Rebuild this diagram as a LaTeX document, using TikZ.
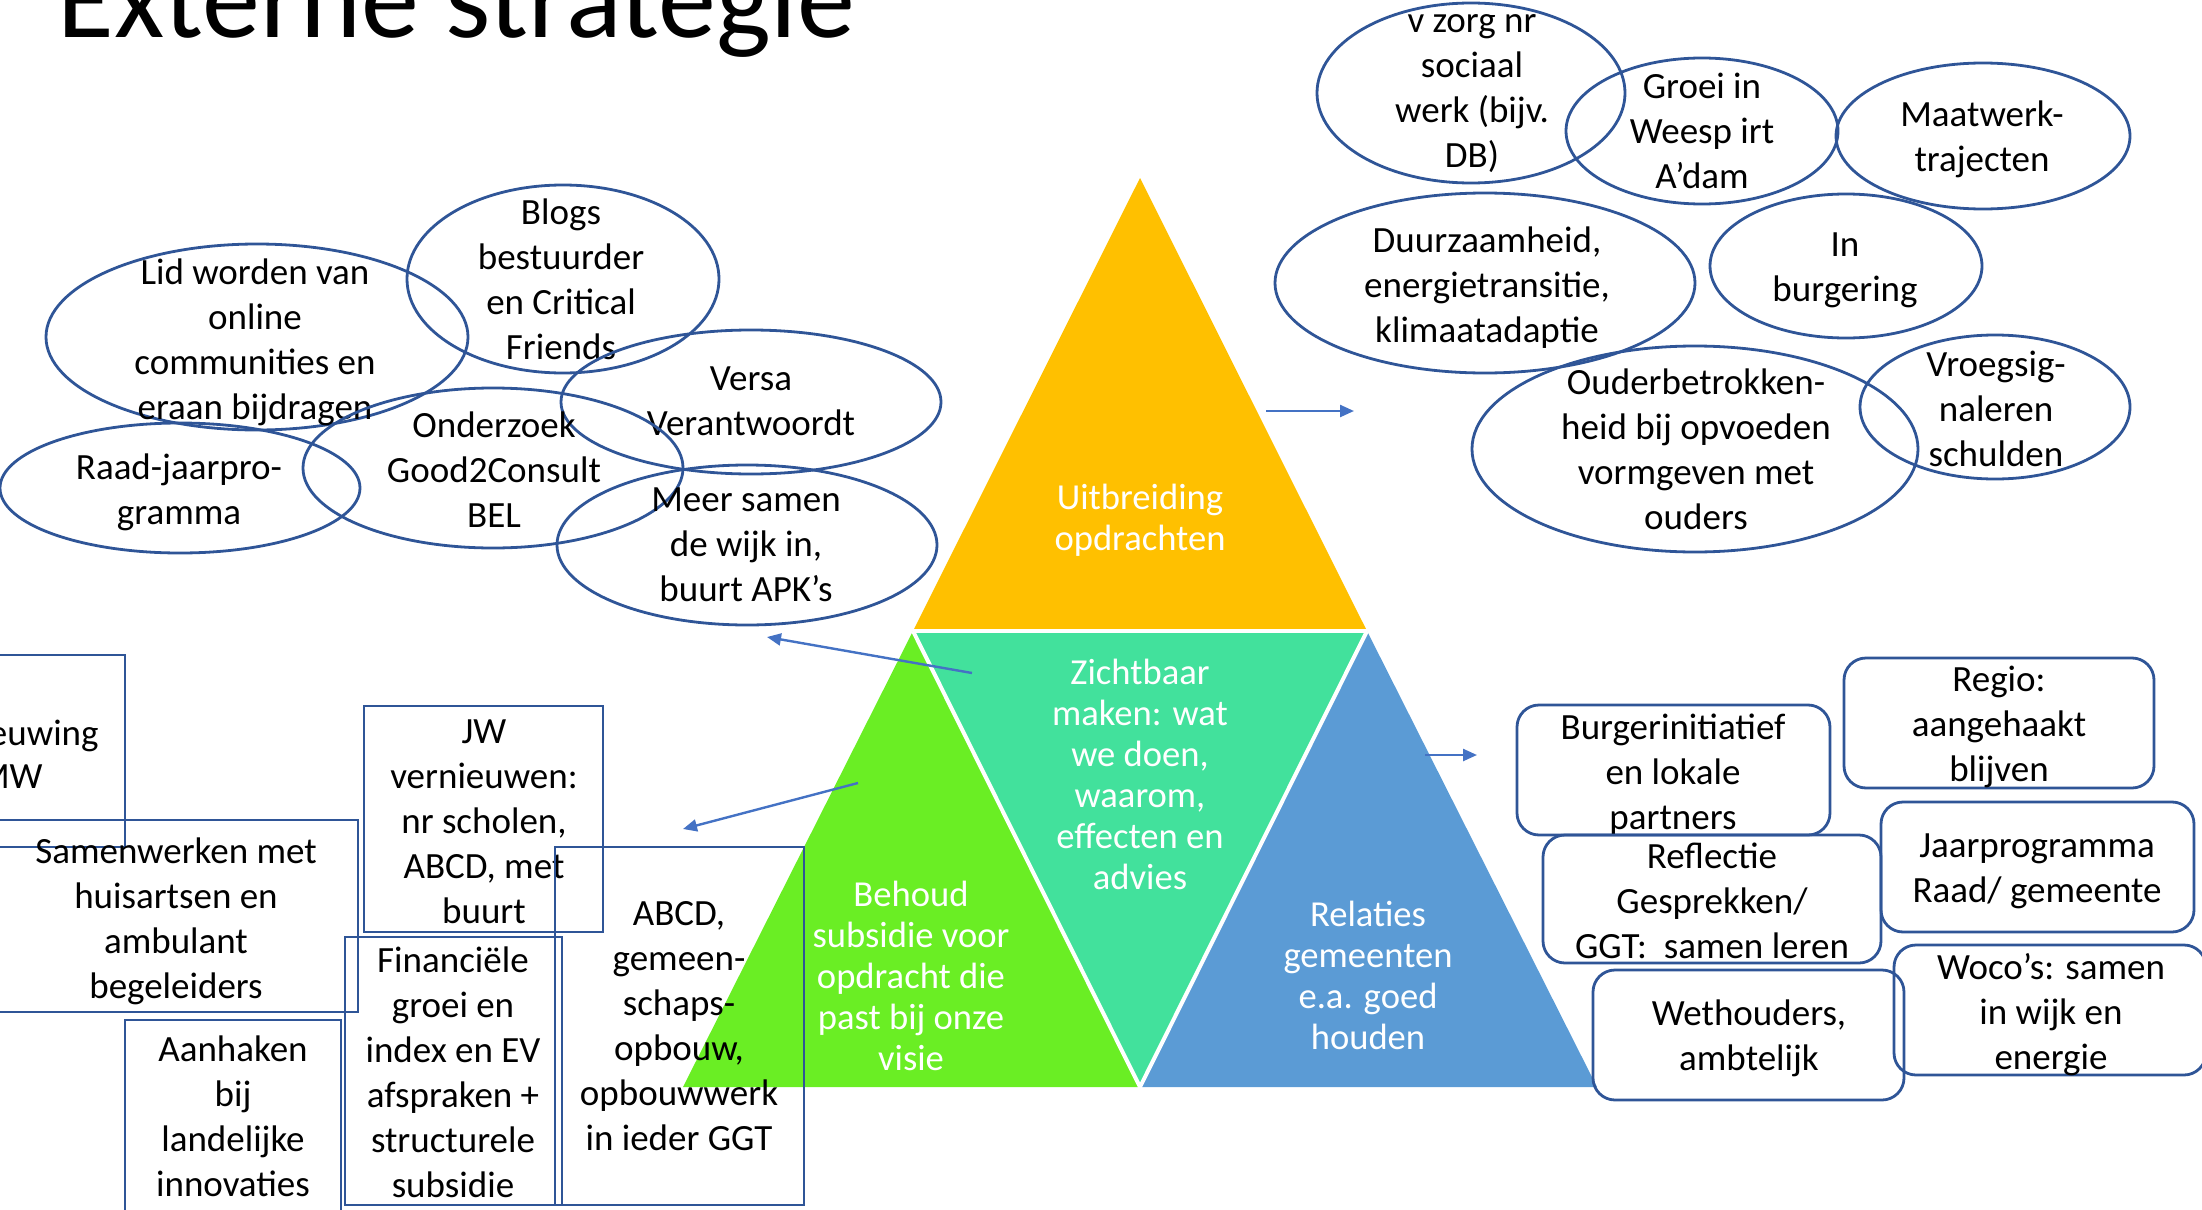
\documentclass[tikz,border=0pt]{standalone}
\usepackage{fontspec}
\setmainfont{Carlito}
\usetikzlibrary{shapes.geometric,arrows.meta}
\definecolor{ol}{HTML}{2F5597}
\definecolor{arrc}{HTML}{4472C4}
\definecolor{torange}{HTML}{FFC000}
\definecolor{tgreen}{HTML}{6AEE24}
\definecolor{tteal}{HTML}{42E19C}
\definecolor{tblue}{HTML}{5B9BD5}
\tikzset{
  ell/.style={draw=ol, line width=1.4pt, ellipse, inner sep=0pt},
  sq/.style={draw=ol, line width=1.4pt, rectangle, inner sep=0pt},
  rbox/.style={sq, rounded corners=11pt},
  txt/.style={align=center, inner sep=0pt, yshift=-3pt, font=\fontsize{18.5}{22.5}\selectfont,
    execute at begin node=\strut, execute at end node=\strut},
  plaintxt/.style={inner sep=0pt, font=\fontsize{18.5}{22.5}\selectfont},
  wtxt/.style={align=center, inner sep=0pt, yshift=-3pt, text=white, font=\fontsize{18.3}{20.5}\selectfont,
    execute at begin node=\strut, execute at end node=\strut},
  arr/.style={draw=arrc, line width=1.2pt, -{Triangle[length=7pt,width=6pt]}},
  sep/.style={draw=white, line width=2pt}
}
\begin{document}
\begin{tikzpicture}[x=0.5pt,y=-0.5pt]
\useasboundingbox (0,0) rectangle (2202,1210);

% title
\node[anchor=base west, inner sep=0pt, font=\fontsize{58}{70}\selectfont] (title) at (57,37) {Externe strategie};

% triangle
\coordinate (P0) at (1140,178);
\coordinate (ML) at (913,631);
\coordinate (MR) at (1367,631);
\coordinate (BL) at (683,1087);
\coordinate (BM) at (1140,1087);
\coordinate (BR) at (1597,1087);
\fill[torange] (P0) -- (ML) -- (MR) -- cycle;
\fill[tgreen] (ML) -- (BL) -- (BM) -- cycle;
\fill[tteal] (ML) -- (MR) -- (BM) -- cycle;
\fill[tblue] (MR) -- (BM) -- (BR) -- cycle;
\draw[sep] (ML) -- (MR);
\draw[sep] (ML) -- (BM) -- (MR);

\node[wtxt] (t1) at (1140,517) {Uitbreiding\\opdrachten};
\node[wtxt] (t2) at (1140,774) {Zichtbaar\\maken: wat\\we doen,\\waarom,\\effecten en\\advies};
\node[wtxt] (t3) at (911,976) {Behoud\\subsidie voor\\opdracht die\\past bij onze\\visie};
\node[wtxt] (t4) at (1368,975) {Relaties\\gemeenten\\e.a. goed\\houden};

% ellipses left
\node[ell, minimum width=211pt, minimum height=93pt] (e1) at (257,337) {};
\node[txt] (e1t) at (255,340) {Lid worden van\\online\\communities en\\eraan bijdragen};
\node[ell, minimum width=156pt, minimum height=94pt] (e2) at (563,279) {};
\node[txt] (e2t) at (561,280) {Blogs\\bestuurder\\en Critical\\Friends};
\node[ell, minimum width=190pt, minimum height=72pt] (e3) at (751,402) {};
\node[txt] (e3t) at (751,402) {Versa\\Verantwoordt};
\node[ell, minimum width=190pt, minimum height=80pt] (e4) at (493,468) {};
\node[txt] (e4t) at (494,470) {Onderzoek\\Good2Consult\\BEL};
\node[ell, minimum width=180pt, minimum height=65pt] (e5) at (180,488) {};
\node[txt] (e5t) at (179,490) {Raad-jaarpro-\\gramma};
\node[ell, minimum width=190pt, minimum height=80pt] (e6) at (747,545) {};
\node[txt] (e6t) at (746,545) {Meer samen\\de wijk in,\\buurt APK’s};

% ellipses right
\node[ell, minimum width=154pt, minimum height=90pt] (e7) at (1471,93) {};
\node[txt] (e7t) at (1472,92) {v zorg nr\\sociaal\\werk (bijv.\\DB)};
\node[ell, minimum width=136pt, minimum height=73pt] (e8) at (1702,131) {};
\node[txt] (e8t) at (1702,132) {Groei in\\Weesp irt\\A’dam};
\node[ell, minimum width=147pt, minimum height=73pt] (e9) at (1983,136) {};
\node[txt] (e9t) at (1982,137) {Maatwerk-\\trajecten};
\node[ell, minimum width=210pt, minimum height=90pt] (e10) at (1485,283) {};
\node[txt] (e10t) at (1487,285) {Duurzaamheid,\\energietransitie,\\klimaatadaptie};
\node[ell, minimum width=136pt, minimum height=72pt] (e11) at (1846,266) {};
\node[txt] (e11t) at (1845,268) {In\\burgering};
\node[ell, minimum width=223pt, minimum height=103pt] (e12) at (1695,449) {};
\node[txt] (e12t) at (1696,450) {Ouderbetrokken-\\heid bij opvoeden\\vormgeven met\\ouders};
\node[ell, minimum width=135pt, minimum height=72pt] (e13) at (1995,407) {};
\node[txt] (e13t) at (1996,410) {Vroegsig-\\naleren\\schulden};

% boxes bottom left
\node[sq, minimum width=112.5pt, minimum height=96pt] (b1) at (12.5,751) {};
\node[plaintxt, anchor=base east] (b1a) at (99,745) {euwing};
\node[plaintxt, anchor=base east] (b1b) at (43,788) {MW};
\node[sq, minimum width=182pt, minimum height=96pt] (b2) at (176,916) {};
\node[txt] (b2t) at (176,919) {Samenwerken met\\huisartsen en\\ambulant\\begeleiders};
\node[sq, minimum width=119.5pt, minimum height=113pt] (b3) at (483.5,819) {};
\node[txt] (b3t) at (484,822) {JW\\vernieuwen:\\nr scholen,\\ABCD, met\\buurt};
\node[sq, minimum width=108.5pt, minimum height=134pt] (b4) at (453.5,1071) {};
\node[txt] (b4t) at (453,1073) {Financiële\\groei en\\index en EV\\afspraken +\\structurele\\subsidie};
\node[sq, minimum width=108pt, minimum height=97pt] (b5) at (233,1117) {};
\node[txt] (b5t) at (233,1117) {Aanhaken\\bij\\landelijke\\innovaties};
\node[sq, minimum width=124.5pt, minimum height=179pt] (b6) at (679.5,1026) {};
\node[txt] (b6t) at (679,1027) {ABCD,\\gemeen-\\schaps-\\opbouw,\\opbouwwerk\\in ieder GGT};

% rounded boxes right
\node[rbox, minimum width=156.5pt, minimum height=65pt] (r1) at (1673.5,770) {};
\node[txt] (r1t) at (1673,772) {Burgerinitiatief\\en lokale\\partners};
\node[rbox, minimum width=155pt, minimum height=65pt] (r2) at (1999,723) {};
\node[txt] (r2t) at (1999,725) {Regio:\\aangehaakt\\blijven};
\node[rbox, minimum width=169pt, minimum height=64pt] (r3) at (1712,899) {};
\node[txt] (r3t) at (1712,901) {Reflectie\\Gesprekken/\\GGT: \ samen leren};
\node[rbox, minimum width=156.5pt, minimum height=65pt] (r4) at (2037.5,867) {};
\node[txt] (r4t) at (2037,869) {Jaarprogramma\\Raad/ gemeente};
\node[rbox, minimum width=155.5pt, minimum height=65pt] (r5) at (1748.5,1035) {};
\node[txt] (r5t) at (1749,1036) {Wethouders,\\ambtelijk};
\node[rbox, minimum width=156pt, minimum height=65pt] (r6) at (2050,1010) {};
\node[txt] (r6t) at (2051,1012) {Woco’s: samen\\in wijk en\\energie};

% arrows
\coordinate (a1s) at (1266,411); \coordinate (a1e) at (1354,411);
\coordinate (a2s) at (972,673);  \coordinate (a2e) at (767,637);
\coordinate (a3s) at (858,783);  \coordinate (a3e) at (683,829);
\coordinate (a4s) at (1425,755); \coordinate (a4e) at (1477,755);
\draw[arr] (a1s) -- (a1e);
\draw[arr] (a2s) -- (a2e);
\draw[arr] (a3s) -- (a3e);
\draw[arr] (a4s) -- (a4e);
\end{tikzpicture}
\end{document}
